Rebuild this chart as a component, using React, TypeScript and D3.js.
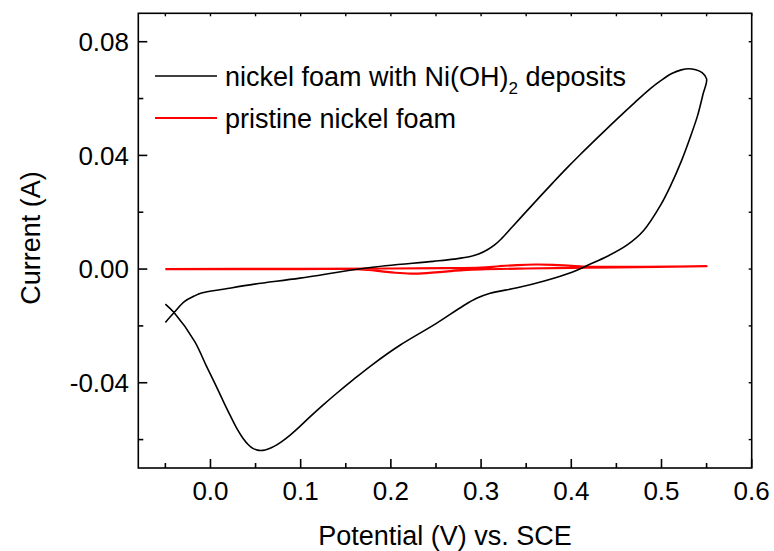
import React from "react";
import * as d3 from "d3";

const xMajor = [0.0, 0.1, 0.2, 0.3, 0.4, 0.5, 0.6];
const xMinor = [-0.05, 0.05, 0.15, 0.25, 0.35, 0.45, 0.55];
const xLabels = ["0.0", "0.1", "0.2", "0.3", "0.4", "0.5", "0.6"];
const yMajor = [-0.04, 0.0, 0.04, 0.08];
const yMinor = [-0.06, -0.02, 0.02, 0.06];
const yLabels = ["-0.04", "0.00", "0.04", "0.08"];

// nickel foam with Ni(OH)2 deposits: [potential V, current A]
const niohPotential = [
  -0.05, -0.0404, -0.0286, -0.018, -0.01, 0.0159, 0.049, 0.0992, 0.173, 0.247, 0.27, 0.288, 0.298, 0.307, 0.315, 0.322,
  0.335, 0.35, 0.365, 0.38, 0.395, 0.41, 0.43, 0.45, 0.47, 0.488, 0.5, 0.512, 0.522, 0.53, 0.538, 0.545, 0.55,
  0.546, 0.54, 0.532, 0.522, 0.51, 0.499, 0.48, 0.462, 0.44, 0.42, 0.4, 0.37, 0.34, 0.31, 0.295, 0.28, 0.25, 0.21,
  0.18, 0.158, 0.14, 0.125, 0.11, 0.098, 0.088, 0.079, 0.071, 0.064, 0.058, 0.052, 0.047, 0.042, 0.036, 0.03, 0.022,
  0.013, 0.005, -0.005, -0.0174, -0.0404, -0.05,
];
const niohCurrent = [
  -0.0188, -0.0153, -0.0114, -0.0095, -0.0084, -0.007, -0.0053, -0.0032, 0.0004, 0.0027, 0.0035, 0.0044, 0.0054, 0.0068, 0.0085, 0.0105,
  0.015, 0.0202, 0.0254, 0.0305, 0.0355, 0.0403, 0.0465, 0.0526, 0.0585, 0.0636, 0.0665, 0.0689, 0.0701, 0.0705, 0.0701, 0.0691, 0.0669,
  0.0615, 0.054, 0.0465, 0.038, 0.0293, 0.0225, 0.0135, 0.0085, 0.0045, 0.0016, -0.0012, -0.0042, -0.0066, -0.0085, -0.0103, -0.013, -0.0192, -0.0268,
  -0.0335, -0.039, -0.0437, -0.0478, -0.0521, -0.0557, -0.0585, -0.0607, -0.0623, -0.0633, -0.0638, -0.0637, -0.0631, -0.0618, -0.0595, -0.0565, -0.0516,
  -0.0457, -0.0403, -0.0338, -0.0255, -0.0153, -0.0123,
];

// pristine nickel foam
const pristinePotential = [
  -0.05, 0.1, 0.2, 0.26, 0.3, 0.32, 0.34, 0.36, 0.38, 0.4, 0.42, 0.48, 0.55,
  0.45, 0.4, 0.35, 0.3, 0.28, 0.26, 0.24, 0.222, 0.205, 0.19, 0.175, 0.16, 0.1, -0.05,
];
const pristineCurrent = [
  0.0, 0.0001, 0.0002, 0.0003, 0.0005, 0.001, 0.0014, 0.0016, 0.0015, 0.0011, 0.0008, 0.0008, 0.001,
  0.0006, 0.0004, 0.0002, -0.0001, -0.0004, -0.0009, -0.0014, -0.0016, -0.0013, -0.0008, -0.0003, 0.0, 0.0, 0.0,
];

const legendLabels = ["nickel foam with Ni(OH)", "pristine nickel foam"];

const W = 774;
const H = 551;
const L = 138.3;
const R = 751.7;
const T = 13.3;
const B = 468;
const FONT = "Liberation Sans, Arial, sans-serif";
const FS_TICK = 26;
const FS = 27;

export default function App() {
  const x = d3.scaleLinear().domain([-0.08, 0.6]).range([L, R]);
  const y = d3.scaleLinear().domain([-0.07, 0.09]).range([B, T]);
  const line = d3
    .line<[number, number]>()
    .x((d) => x(d[0]))
    .y((d) => y(d[1]))
    .curve(d3.curveCatmullRom.alpha(0.5));
  const black: [number, number][] = niohPotential.map((v, i) => [v, niohCurrent[i]]);
  const red: [number, number][] = pristinePotential.map((v, i) => [v, pristineCurrent[i]]);

  return (
    <svg width={W} height={H} style={{ position: "absolute", left: 0, top: 0, background: "#fff" }}>
      <rect x={0} y={0} width={W} height={H} fill="#fff" />
      <defs>
        <clipPath id="plot">
          <rect x={L} y={T} width={R - L} height={B - T} />
        </clipPath>
      </defs>
      <g clipPath="url(#plot)" fill="none" strokeLinejoin="round">
        <path d={line(red) || ""} stroke="#ff0000" strokeWidth={2.2} />
        <path d={line(black) || ""} stroke="#000" strokeWidth={1.6} />
      </g>
      {/* frame */}
      <rect x={L} y={T} width={R - L} height={B - T} fill="none" stroke="#000" strokeWidth={1.6} />
      {/* bottom ticks */}
      {xMajor.map((v) => (
        <line key={"xM" + v} x1={x(v)} x2={x(v)} y1={B} y2={B - 9} stroke="#000" strokeWidth={1.6} />
      ))}
      {xMinor.map((v) => (
        <line key={"xm" + v} x1={x(v)} x2={x(v)} y1={B} y2={B - 5} stroke="#000" strokeWidth={1.6} />
      ))}
      {/* top ticks */}
      {[...xMajor, ...xMinor].map((v) => (
        <line key={"xt" + v} x1={x(v)} x2={x(v)} y1={T} y2={T + 3} stroke="#000" strokeWidth={1.4} />
      ))}
      {/* left ticks */}
      {yMajor.map((v) => (
        <line key={"yM" + v} x1={L} x2={L + 9} y1={y(v)} y2={y(v)} stroke="#000" strokeWidth={1.6} />
      ))}
      {yMinor.map((v) => (
        <line key={"ym" + v} x1={L} x2={L + 5} y1={y(v)} y2={y(v)} stroke="#000" strokeWidth={1.6} />
      ))}
      {/* right ticks */}
      {[...yMajor, ...yMinor].map((v) => (
        <line key={"yr" + v} x1={R} x2={R - 3} y1={y(v)} y2={y(v)} stroke="#000" strokeWidth={1.4} />
      ))}
      <g fontFamily={FONT} fill="#000">
        {xMajor.map((v, i) => (
          <text key={"xl" + v} x={x(v)} y={500} textAnchor="middle" fontSize={FS_TICK}>
            {xLabels[i]}
          </text>
        ))}
        {yMajor.map((v, i) => (
          <text key={"yl" + v} x={129} y={y(v) + 9.4} textAnchor="end" fontSize={FS_TICK}>
            {yLabels[i]}
          </text>
        ))}
        <text x={(L + R) / 2} y={545} textAnchor="middle" fontSize={FS}>
          Potential (V) vs. SCE
        </text>
        <text transform={`translate(40,238) rotate(-90)`} textAnchor="middle" fontSize={FS}>
          Current (A)
        </text>
        {/* legend */}
        <line x1={155} x2={217} y1={76} y2={76} stroke="#000" strokeWidth={1.6} />
        <text x={225} y={86} fontSize={FS}>
          {legendLabels[0]}
          <tspan fontSize={17} dy={8}>2</tspan>
          <tspan dy={-8}> deposits</tspan>
        </text>
        <line x1={155} x2={217} y1={118} y2={118} stroke="#ff0000" strokeWidth={2.2} />
        <text x={225} y={128} fontSize={FS}>
          {legendLabels[1]}
        </text>
      </g>
    </svg>
  );
}
